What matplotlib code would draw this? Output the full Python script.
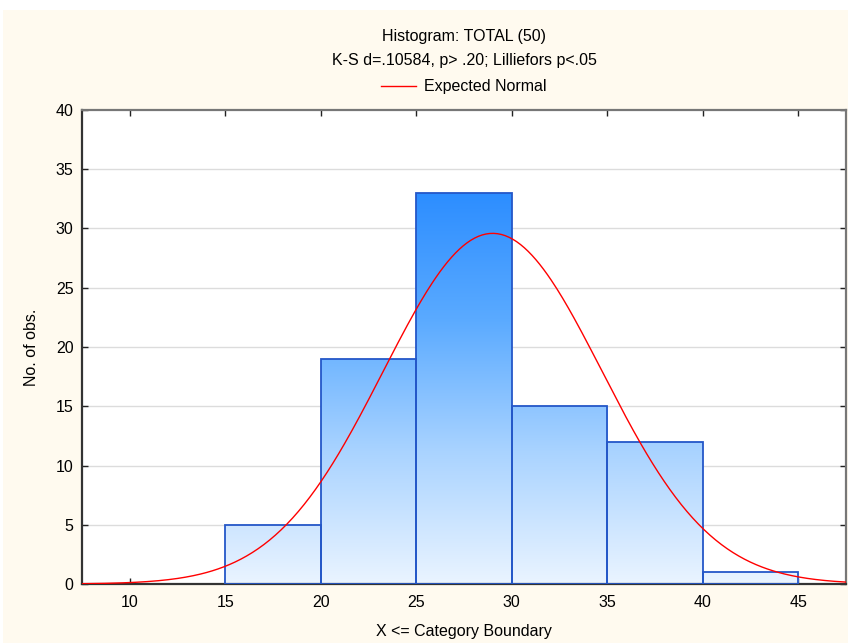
import numpy as np
import matplotlib
matplotlib.use("Agg")
import matplotlib.pyplot as plt
from matplotlib.patches import Rectangle
from matplotlib.lines import Line2D
from matplotlib.colors import LinearSegmentedColormap

plt.rcParams['font.family'] = ['Liberation Sans', 'DejaVu Sans']

# --- data ---
bin_edges = [10, 15, 20, 25, 30, 35, 40, 45]
counts = [0, 5, 19, 33, 15, 12, 1]
x_ticks = [10, 15, 20, 25, 30, 35, 40, 45]
y_ticks = [0, 5, 10, 15, 20, 25, 30, 35, 40]
# expected normal parameters (fit to the histogram)
n_obs = 85
mean_val = 29.0
sd_val = 5.73
bin_width = 5

cream = "#FFFAEF"
fig = plt.figure(figsize=(8.48, 6.43), dpi=100, facecolor="white")
fig.patches.append(Rectangle((3 / 848, 0), 1, 1 - 10 / 643, transform=fig.transFigure,
                             facecolor=cream, edgecolor="none", zorder=-10))

ax = fig.add_axes([82 / 848, 59 / 643, (846 - 82) / 848, (584 - 110) / 643])
ax.set_facecolor("white")
ax.set_xlim(7.5, 47.5)
ax.set_ylim(0, 40)

# gridlines
for yv in y_ticks[1:-1]:
    ax.axhline(yv, color="#DCDCDC", lw=1.0, zorder=1)

# gradient in data coordinates: light at 0, deep blue at ~33
cmap = LinearSegmentedColormap.from_list("bars", ["#EAF4FF", "#A9D3FF", "#5AAAFF", "#2A8CFF"])
grad = np.linspace(0, 1, 256).reshape(-1, 1)
for left, right, c in zip(bin_edges[:-1], bin_edges[1:], counts):
    if c <= 0:
        continue
    im = ax.imshow(grad, extent=[left, right, 0, 33.5], origin="lower", cmap=cmap,
                   aspect="auto", zorder=2, interpolation="bilinear")
    rect = Rectangle((left, 0), right - left, c, facecolor="none", edgecolor="#2457C8",
                     lw=1.3, zorder=3)
    ax.add_patch(rect)
    im.set_clip_path(rect)
ax.set_xlim(7.5, 47.5)
ax.set_ylim(0, 40)

# expected normal
xs = np.linspace(7.5, 47.5, 400)
ys = n_obs * bin_width / (sd_val * np.sqrt(2 * np.pi)) * np.exp(-0.5 * ((xs - mean_val) / sd_val) ** 2)
ax.plot(xs, ys, color="#FF0000", lw=1.0, zorder=4)

ax.set_xticks(x_ticks)
ax.set_yticks(y_ticks)
ax.tick_params(direction="in", length=4, width=1, top=True, right=True,
               labelsize=11.5, colors="#222222", pad=8)
ax.tick_params(axis="x", labelcolor="black")
ax.tick_params(axis="y", labelcolor="black", pad=6)
for side in ["left", "bottom"]:
    ax.spines[side].set_color("#333333")
    ax.spines[side].set_linewidth(1.6)
for side in ["top", "right"]:
    ax.spines[side].set_color("#777777")
    ax.spines[side].set_linewidth(1.6)

ax.set_xlabel("X <= Category Boundary", fontsize=11.5, labelpad=10)
ax.set_ylabel("No. of obs.", fontsize=11.5, labelpad=12)

cx = (82 + 846) / 2 / 848
fig.text(cx, 1 - 36 / 643, "Histogram: TOTAL (50)", ha="center", va="center", fontsize=11.5)
fig.text(cx, 1 - 61 / 643, "K-S d=.10584, p> .20; Lilliefors p<.05", ha="center", va="center", fontsize=11.5)
handle = Line2D([], [], color="#FF0000", lw=1.0)
fig.legend([handle], ["Expected Normal"], loc="center", bbox_to_anchor=(cx, 1 - 87 / 643),
           frameon=False, fontsize=11.5, handlelength=2.2, handletextpad=0.5)

fig.savefig("out.png", dpi=100, facecolor=fig.get_facecolor())
